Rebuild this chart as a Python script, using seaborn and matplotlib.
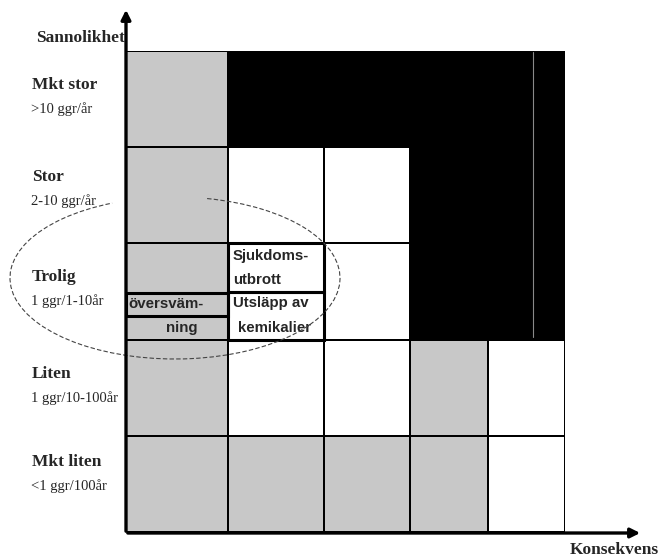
import numpy as np
import matplotlib.pyplot as plt
from matplotlib.colors import ListedColormap
from matplotlib.patches import Rectangle, Arc
import seaborn as sns

# Sannolikhet (rader, uppifrån) och konsekvens (kolumner)
levels = ["Mkt stor", "Stor", "Trolig", "Liten", "Mkt liten"]
freqs = [">10 ggr/år", "2-10 ggr/år", "1 ggr/1-10år", "1 ggr/10-100år", "<1 ggr/100år"]
consequences = ["1", "2", "3", "4", "5"]
# 0 = vit, 1 = grå, 2 = svart
risk = [[1, 2, 2, 2, 2],
        [1, 0, 0, 2, 2],
        [1, 0, 0, 2, 2],
        [1, 0, 0, 1, 0],
        [1, 1, 1, 1, 0]]

sns.set_style("white")
plt.rcParams["font.family"] = ["Liberation Serif", "DejaVu Serif"]

W, H = 661, 558
fig = plt.figure(figsize=(W / 100, H / 100), dpi=100)
ax = fig.add_axes([126 / W, (H - 532) / H, 439 / W, 481 / H])

sns.heatmap(risk, ax=ax, cmap=ListedColormap(["white", "#c8c8c8", "black"]),
            vmin=0, vmax=2, cbar=False, linewidths=1.2, linecolor="black",
            xticklabels=consequences, yticklabels=levels)

# kolumnerna är olika breda i originalet
col_px = [0, 102, 198, 284, 362, 439]
idx = np.arange(6)
ax.set_xscale("function", functions=(lambda x: np.interp(x, idx, col_px),
                                     lambda p: np.interp(p, col_px, idx)))
ax.set_xlim(0, 5)
ax.set_xticks([])
ax.set_yticks([])
for s in ax.spines.values():
    s.set_visible(False)

# händelser i rutan "Trolig"
box_font = dict(family="Liberation Sans", fontweight="bold", fontsize=10.8, va="center")
ax.add_patch(Rectangle((1, 2), 1, 0.5, fill=False, lw=2.2, ec="black", zorder=4))
ax.add_patch(Rectangle((1, 2.5), 1, 0.5, fill=False, lw=2.2, ec="black", zorder=4))
ax.add_patch(Rectangle((0, 2.52), 1, 0.23, fill=False, lw=2.2, ec="black", zorder=4))
ax.text(1.05, 2.13, "Sjukdoms-", **box_font)
ax.text(1.05, 2.38, "utbrott", **box_font)
ax.text(1.05, 2.62, "Utsläpp av", **box_font)
ax.text(1.10, 2.88, "kemikalier", **box_font)
ax.text(0.02, 2.635, "översväm-", **box_font)
ax.text(0.55, 2.88, "ning", ha="center", **box_font)

# överlägg i pixelkoordinater för axlar, etiketter och handritad ring
ov = fig.add_axes([0, 0, 1, 1], zorder=3)
ov.set_xlim(0, W)
ov.set_ylim(H, 0)
ov.axis("off")
ov.patch.set_alpha(0)

ov.plot([533, 533], [52, 337], color="#8a8a8a", lw=0.8)
ov.annotate("", xy=(126, 7), xytext=(126, 534),
            arrowprops=dict(arrowstyle="-|>", lw=2.4, color="black", mutation_scale=14))
ov.annotate("", xy=(643, 533), xytext=(125, 533),
            arrowprops=dict(arrowstyle="-|>", lw=2.4, color="black", mutation_scale=14))

ov.text(36, 38, "Sannolikhet", fontsize=12.5, fontweight="bold", va="center")
ov.text(570, 550, "Konsekvens", fontsize=12.5, fontweight="bold", va="center")

label_y = [85, 177, 277, 374, 462]
for lab, fr, y in zip(levels, freqs, label_y):
    ov.text(32, y, lab, fontsize=12.5, fontweight="bold", va="center")
    ov.text(31, y + 24, fr, fontsize=10.5, va="center")

ov.add_patch(Arc((175, 278), 330, 162, theta1=-68, theta2=230,
                 ls=(0, (4, 2)), lw=0.8, color="#444444"))

fig.savefig("out.png", dpi=100)
